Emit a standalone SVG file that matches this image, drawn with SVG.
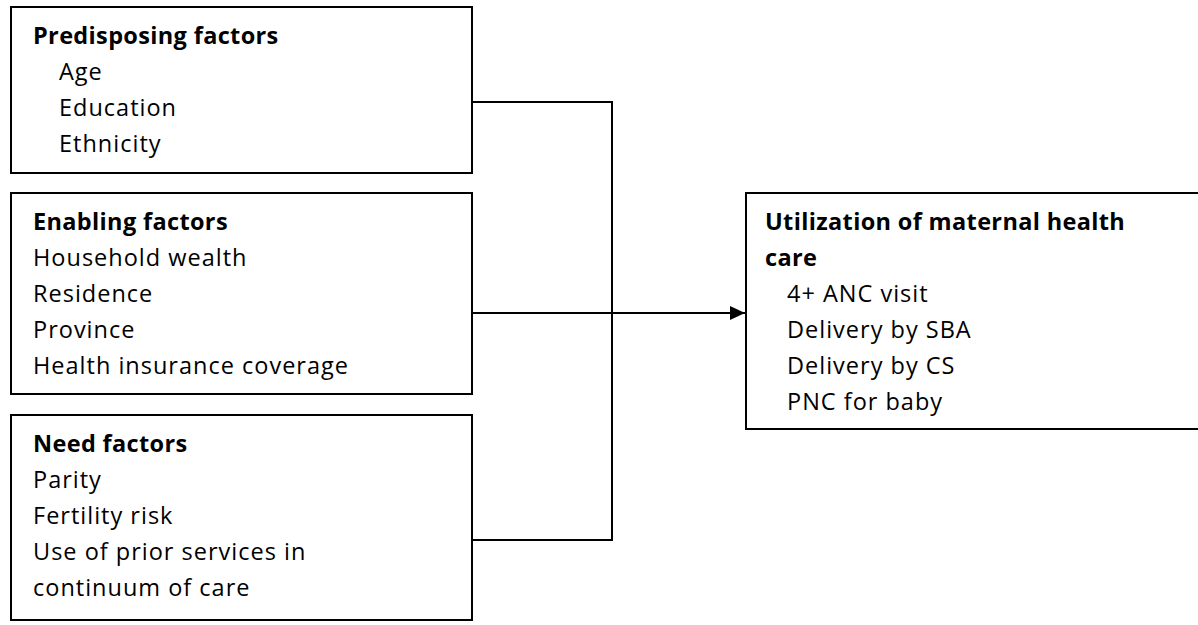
<svg xmlns="http://www.w3.org/2000/svg" width="1198" height="625" viewBox="0 0 1198 625">
<style>
.box{fill:#fff;stroke:#000;stroke-width:2}
.t{font-family:"Open Sans","Liberation Sans",sans-serif;font-size:23.5px;fill:#000;letter-spacing:1px}
.b{font-weight:bold;letter-spacing:0.35px}
.c{fill:none;stroke:#000;stroke-width:2}
</style>
<defs>
<marker id="arr" markerWidth="15" markerHeight="14" refX="15" refY="7" orient="auto" markerUnits="userSpaceOnUse">
<path d="M0,0 L15,7 L0,14 Z" fill="#000"/>
</marker>
</defs>
<rect width="1198" height="625" fill="#fff"/>
<g id="connectors">
<polyline class="c" points="472,102 612,102 612,540 472,540"/>
<line class="c" x1="472" y1="313" x2="745" y2="313" marker-end="url(#arr)"/>
</g>
<g id="predisposing">
<rect class="box" x="11" y="7" width="461" height="166"/>
<text class="t b" x="33" y="44">Predisposing factors</text>
<text class="t" x="59" y="80">Age</text>
<text class="t" x="59" y="116">Education</text>
<text class="t" x="59" y="152">Ethnicity</text>
</g>
<g id="enabling">
<rect class="box" x="11" y="193" width="461" height="201"/>
<text class="t b" x="33" y="230">Enabling factors</text>
<text class="t" x="33" y="266">Household wealth</text>
<text class="t" x="33" y="302">Residence</text>
<text class="t" x="33" y="338">Province</text>
<text class="t" x="33" y="374">Health insurance coverage</text>
</g>
<g id="need">
<rect class="box" x="11" y="415" width="461" height="205"/>
<text class="t b" x="33" y="452">Need factors</text>
<text class="t" x="33" y="488">Parity</text>
<text class="t" x="33" y="524">Fertility risk</text>
<text class="t" x="33" y="560">Use of prior services in</text>
<text class="t" x="33" y="596">continuum of care</text>
</g>
<g id="utilization">
<rect class="box" x="746" y="193" width="454" height="236"/>
<text class="t b" x="765" y="230">Utilization of maternal health</text>
<text class="t b" x="765" y="266">care</text>
<text class="t" x="787" y="302">4+ ANC visit</text>
<text class="t" x="787" y="338">Delivery by SBA</text>
<text class="t" x="787" y="374">Delivery by CS</text>
<text class="t" x="787" y="410">PNC for baby</text>
</g>
</svg>
